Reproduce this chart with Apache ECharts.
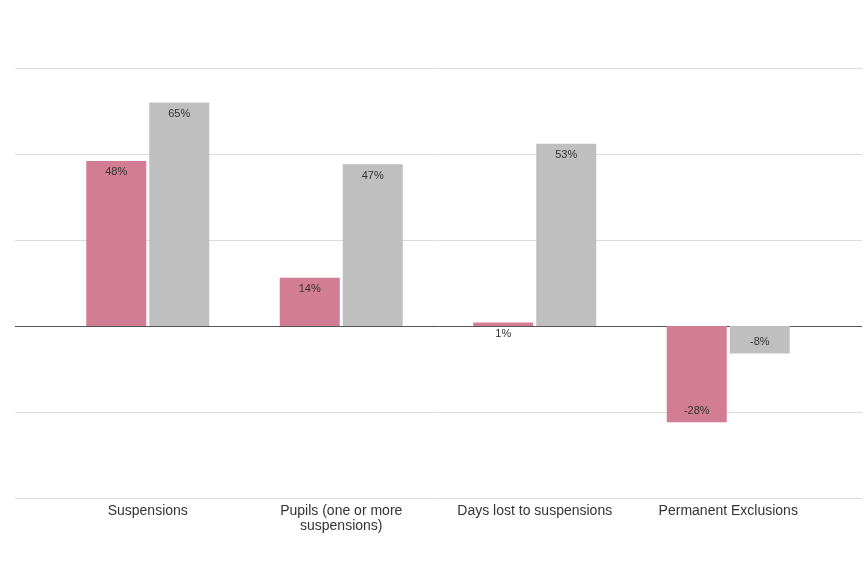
<!DOCTYPE html>
<html>
<head>
<meta charset="utf-8">
<script src="https://cdn.jsdelivr.net/npm/echarts@6/dist/echarts.min.js"></script>
<style>
  html, body { margin: 0; padding: 0; background: #fff; }
  #chart { width: 867px; height: 561px; }
</style>
</head>
<body>
<div id="chart"></div>
<script>
var categories = ["Suspensions", "Pupils (one or more\nsuspensions)", "Days lost to suspensions", "Permanent Exclusions"];
var pinkValues = [48, 14, 1, -28];
var greyValues = [65, 47, 53, -8];

// label sits at the outer end of each bar
function withLabels(values) {
  return values.map(function (v) {
    return { value: v, label: { position: v < 0 ? "insideBottom" : "insideTop" } };
  });
}

var myChart = echarts.init(document.getElementById("chart"));
var option = {
  animation: false,
  grid: [
    // full-width grid only for the horizontal lines
    { left: 15, right: 5, top: 68, bottom: 63 },
    { left: 51, right: 42, top: 68, bottom: 63 }
  ],
  xAxis: [
    { type: "category", gridIndex: 0, data: [], show: false },
    {
      type: "category",
      gridIndex: 1,
      data: categories,
      axisLine: { show: false, onZero: false },
      axisTick: { show: false },
      axisLabel: {
        color: "#333",
        fontSize: 14,
        fontFamily: "Liberation Sans, Arial, sans-serif",
        margin: 6,
        lineHeight: 15,
        interval: 0
      }
    }
  ],
  yAxis: [
    {
      type: "value",
      gridIndex: 0,
      min: -50,
      max: 75,
      interval: 25,
      axisLabel: { show: false },
      axisLine: { show: false },
      axisTick: { show: false },
      splitLine: {
        lineStyle: {
          // -50, -25, 0, 25, 50, 75
          color: ["#dcdcdc", "#dcdcdc", "#555", "#dcdcdc", "#dcdcdc", "#dcdcdc"],
          width: 1
        }
      }
    },
    {
      type: "value",
      gridIndex: 1,
      min: -50,
      max: 75,
      interval: 25,
      show: false,
      splitLine: { show: false }
    }
  ],
  series: [
    {
      type: "bar",
      xAxisIndex: 1,
      yAxisIndex: 1,
      data: withLabels(pinkValues),
      barWidth: 60,
      barGap: "5%",
      itemStyle: { color: "#d27d93" },
      label: {
        show: true,
        formatter: "{c}%",
        color: "#333",
        fontSize: 11,
        fontFamily: "Liberation Sans, Arial, sans-serif",
        distance: 6
      }
    },
    {
      type: "bar",
      xAxisIndex: 1,
      yAxisIndex: 1,
      data: withLabels(greyValues),
      barWidth: 60,
      barGap: "5%",
      itemStyle: { color: "#bfbfbf" },
      label: {
        show: true,
        formatter: "{c}%",
        color: "#333",
        fontSize: 11,
        fontFamily: "Liberation Sans, Arial, sans-serif",
        distance: 6
      }
    }
  ]
};
myChart.setOption(option);
</script>
</body>
</html>
